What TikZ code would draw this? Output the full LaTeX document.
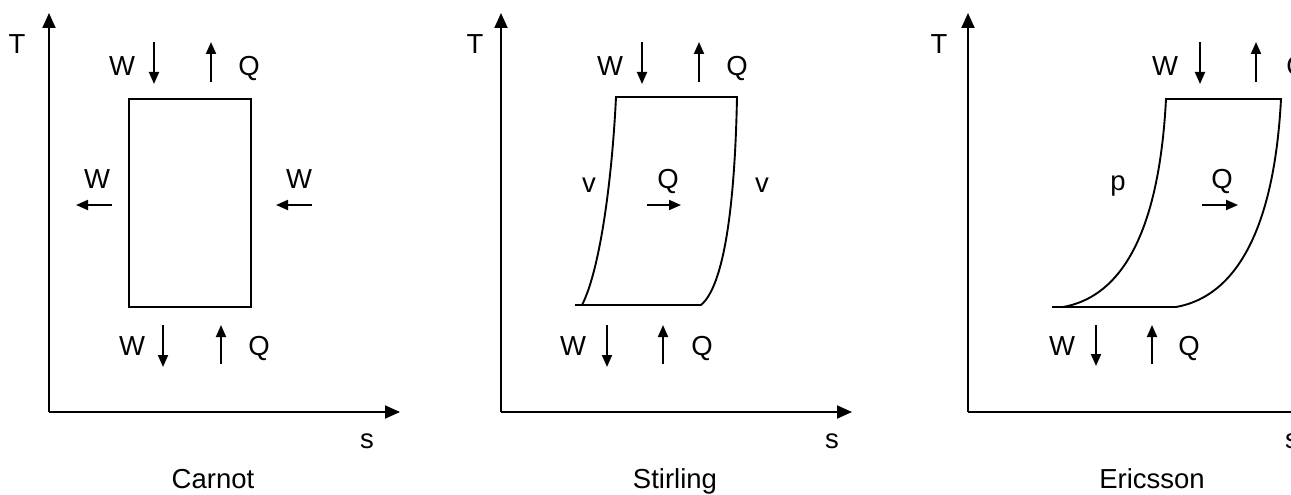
\documentclass[tikz,border=0pt]{standalone}
\usepackage{fontspec}
\setmainfont{Liberation Sans}
\usetikzlibrary{arrows.meta}
\begin{document}
\begin{tikzpicture}[x=1pt,y=-1pt,
  line width=1.9pt,
  lbl/.style={anchor=base,inner sep=0pt,font=\fontsize{27.5}{30}\selectfont},
  ax/.style={-{Triangle[length=15pt,width=13pt]}},
  flow/.style={-{Triangle[length=12pt,width=10pt]}},
  cyc/.style={line width=1.9pt,line join=miter}]
\useasboundingbox (0,0) rectangle (1291,495);
\clip (0,0) rectangle (1291,495);

% ---------------- Carnot ----------------
\coordinate (cO) at (49,412);
\coordinate (cT) at (49,13);
\coordinate (cS) at (400,412);
\draw[ax] (cO) -- (cT);
\draw[ax] (cO) -- (cS);
\draw[cyc] (129,99) rectangle (251,307);
\draw[flow] (154,42) -- (154,84);
\draw[flow] (211,82) -- (211,42);
\draw[flow] (112,205) -- (76,205);
\draw[flow] (312,205) -- (276,205);
\draw[flow] (163,325) -- (163,367);
\draw[flow] (221,364) -- (221,325);
\node[lbl] (cTl) at (17,54) {T};
\node[lbl] (cSl) at (367,448) {s};
\node[lbl] (cName) at (213,488) {Carnot};
\node[lbl] (cW1) at (122,75) {W};
\node[lbl] (cQ1) at (249,75) {Q};
\node[lbl] (cW2) at (97,188) {W};
\node[lbl] (cW3) at (299,188) {W};
\node[lbl] (cW4) at (132,355) {W};
\node[lbl] (cQ2) at (259,355) {Q};

% ---------------- Stirling ----------------
\coordinate (sO) at (501,412);
\coordinate (sT) at (501,13);
\coordinate (sS) at (852,412);
\draw[ax] (sO) -- (sT);
\draw[ax] (sO) -- (sS);
\draw[cyc] (575,305) -- (701,305)
  .. controls (725,285) and (735,200) .. (737,97)
  -- (616,97)
  .. controls (612,180) and (600,270) .. (582,305);
\draw[flow] (642,42) -- (642,84);
\draw[flow] (699,82) -- (699,42);
\draw[flow] (647,205) -- (681,205);
\draw[flow] (607,325) -- (607,367);
\draw[flow] (663,364) -- (663,325);
\node[lbl] (sTl) at (475,54) {T};
\node[lbl] (sSl) at (832,448) {s};
\node[lbl] (sName) at (675,488) {Stirling};
\node[lbl] (sW1) at (610,75) {W};
\node[lbl] (sQ1) at (737,75) {Q};
\node[lbl] (sV1) at (589,192) {v};
\node[lbl] (sV2) at (762,192) {v};
\node[lbl] (sQm) at (668,188) {Q};
\node[lbl] (sW2) at (573,355) {W};
\node[lbl] (sQ2) at (702,355) {Q};

% ---------------- Ericsson ----------------
\coordinate (eO) at (968,412);
\coordinate (eT) at (968,13);
\coordinate (eS) at (1320,412);
\draw[ax] (eO) -- (eT);
\draw[ax] (eO) -- (eS);
\draw[cyc] (1052,307) -- (1176,307)
  .. controls (1243,295) and (1275,215) .. (1281,99)
  -- (1166,99)
  .. controls (1160,215) and (1130,295) .. (1063,307);
\draw[flow] (1200,42) -- (1200,84);
\draw[flow] (1256,82) -- (1256,42);
\draw[flow] (1202,205) -- (1238,205);
\draw[flow] (1096,325) -- (1096,366);
\draw[flow] (1152,364) -- (1152,325);
\node[lbl] (eTl) at (939,54) {T};
\node[lbl] (eSl) at (1292,448) {s};
\node[lbl] (eName) at (1152,488) {Ericsson};
\node[lbl] (eW1) at (1165,75) {W};
\node[lbl] (eQ1) at (1297,75) {Q};
\node[lbl] (eP) at (1118,190) {p};
\node[lbl] (eQm) at (1222,188) {Q};
\node[lbl] (eW2) at (1062,355) {W};
\node[lbl] (eQ2) at (1189,355) {Q};
\end{tikzpicture}
\end{document}
